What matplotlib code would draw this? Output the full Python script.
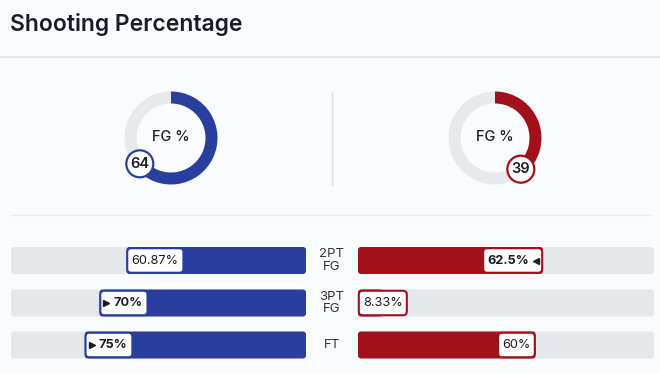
import matplotlib
matplotlib.use('Agg')
import matplotlib.pyplot as plt
from matplotlib.patches import FancyBboxPatch, Circle
import numpy as np

plt.rcParams['font.family'] = ['Inter', 'DejaVu Sans']

# ---------------- data ----------------
title = "Shooting Percentage"
donut_label = "FG %"
fg_left = 64
fg_right = 39
categories = ["2PT\nFG", "3PT\nFG", "FT"]
left_values = [60.87, 70, 75]
right_values = [62.5, 8.33, 60]
left_labels = ["60.87%", "70%", "75%"]
right_labels = ["62.5%", "8.33%", "60%"]

# ---------------- style ----------------
BLUE = '#2a3f9d'
RED = '#a0111b'
TRACK = '#e6e7eb'
RING = '#e8e9ed'
BG = '#fafbfd'
TXT = '#1b1c2a'

W, H = 660, 374
fig = plt.figure(figsize=(W / 100, H / 100), dpi=100)
fig.patch.set_facecolor(BG)
ax = fig.add_axes([0, 0, 1, 1])
ax.set_xlim(0, W)
ax.set_ylim(H, 0)
ax.axis('off')

ax.text(10, 24, title, fontsize=16.5, fontweight='semibold', color=TXT,
        va='center', ha='left')
ax.plot([0, W], [57, 57], color='#e1e2e7', lw=1.2)
ax.plot([10, 650], [215, 215], color='#ebecf0', lw=1.0)
ax.plot([332, 332], [92, 185], color='#dcdde2', lw=1.0)


def donut(cx, cy, value, color):
    R = 46.5
    ring_w = 12
    dax = fig.add_axes([(cx - R) / W, 1 - (cy + R) / H, 2 * R / W, 2 * R / H])
    dax.pie([value, 100 - value], colors=[color, RING], startangle=90,
            counterclock=False, radius=1,
            wedgeprops=dict(width=ring_w / R, linewidth=0))
    dax.set_xlim(-1, 1)
    dax.set_ylim(-1, 1)
    dax.axis('off')
    dax.text(0, 0.02, donut_label, ha='center', va='center', fontsize=10.5,
             color=TXT, fontweight='medium')
    th = np.deg2rad(90 - value * 3.6)
    rm = 1 - (ring_w / 2) / R
    bx, by = rm * np.cos(th), rm * np.sin(th)
    dax.add_patch(Circle((bx, by), 13.5 / R, fc='white', ec=color, lw=1.6,
                         zorder=5, clip_on=False))
    dax.text(bx, by, f"{value}", ha='center', va='center', fontsize=10.5,
             fontweight='semibold', color=TXT, zorder=6, clip_on=False)


donut(171, 138, fg_left, BLUE)
donut(495, 138, fg_right, RED)

# ---------------- bars ----------------
row_y = [260.5, 303, 345]
bar_h = 27
L0, L1 = 11, 306
R0, R1 = 358, 654
pad = 5


def rbox(x0, x1, yc, h, fc, ec='none', lw=0, r=3, z=1):
    p = FancyBboxPatch((x0, yc - h / 2), x1 - x0, h,
                       boxstyle=f"round,pad=0,rounding_size={r}",
                       fc=fc, ec=ec, lw=lw, zorder=z)
    ax.add_patch(p)


fig.canvas.draw()
renderer = fig.canvas.get_renderer()

for i, cat in enumerate(categories):
    yc = row_y[i]
    lv, rv = left_values[i], right_values[i]
    lbold, rbold = lv > rv, rv > lv
    # tracks
    rbox(L0, L1, yc, bar_h, TRACK)
    rbox(R0, R1, yc, bar_h, TRACK)
    # fills
    lstart = L1 - lv / 100 * (L1 - L0)
    rend = R0 + rv / 100 * (R1 - R0)
    rbox(lstart, L1, yc, bar_h, BLUE, z=2)
    rbox(R0, rend, yc, bar_h, RED, z=2)
    # category label
    ax.text(332, yc, cat, ha='center', va='center', fontsize=9.5,
            color='#333340', linespacing=1.1)

    # left label box
    t = ax.text(0, yc, left_labels[i], ha='left', va='center', fontsize=9.2,
                fontweight='bold' if lbold else 'normal', color=TXT, zorder=5)
    tw = t.get_window_extent(renderer).width
    tri = 9 if lbold else 0
    bw = tw + 2 * pad + tri
    bx0 = lstart
    rbox(bx0 + 0.8, bx0 + bw, yc, bar_h - 2.5, 'white', ec=BLUE, lw=1.5, r=4, z=4)
    t.set_x(bx0 + pad + tri)
    if lbold:
        ax.plot(bx0 + pad + 1.8, yc, marker='>', ms=3.8, color=TXT, zorder=6)

    # right label box
    t = ax.text(0, yc, right_labels[i], ha='left', va='center', fontsize=9.2,
                fontweight='bold' if rbold else 'normal', color=TXT, zorder=5)
    tw = t.get_window_extent(renderer).width
    tri = 9 if rbold else 0
    bw = tw + 2 * pad + tri
    bx1 = max(rend, R0 + bw)
    bx0 = bx1 - bw
    rbox(bx0 + 0.8, bx1 - 0.8, yc, bar_h - 2.5, 'white', ec=RED, lw=1.5, r=4, z=4)
    t.set_x(bx0 + pad)
    if rbold:
        ax.plot(bx1 - pad - 1.8, yc, marker='<', ms=3.8, color=TXT, zorder=6)

fig.savefig('out.png', dpi=100, facecolor=BG)
